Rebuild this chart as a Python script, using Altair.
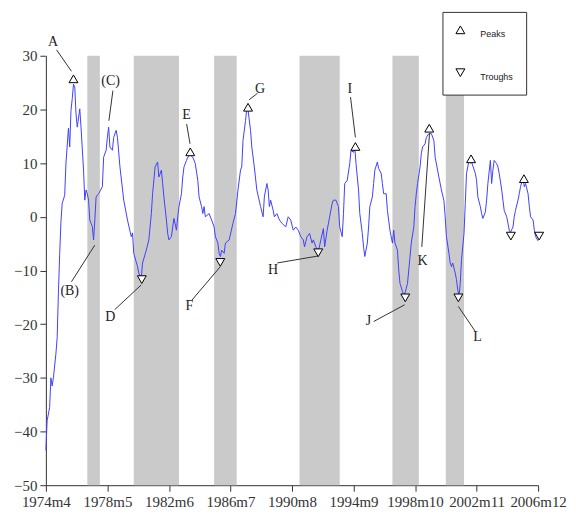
import altair as alt
import pandas as pd

# month index (0 = 1974m4) and index value
series = [
    (0, -43.5), (1, -38.0), (3, -35.5), (4, -30.0), (5, -31.5), (6, -30.0), (8, -25.5), (9, -22.5),
    (10, -14.0), (11, -7.0), (12, -1.0), (13, 2.5), (15, 4.0), (16, 10.0), (18, 16.5), (19, 13.0),
    (20, 19.8), (21, 22.0), (22, 24.7), (23, 24.2), (24, 19.2), (25, 16.7), (27, 20.1), (28, 16.7),
    (30, 8.7), (31, 3.1), (32, 5.0), (33, 4.3), (34, 3.1), (35, -0.6), (36, -1.2), (37, -1.8),
    (38, -4.3), (39, -0.6), (40, 3.7), (42, 4.3), (45, 5.6), (46, 11.1), (48, 12.4), (49, 14.8),
    (50, 16.7), (51, 13.0), (53, 12.4), (54, 14.8), (56, 16.1), (57, 14.8), (59, 9.3), (62, 3.1),
    (65, -0.6), (68, -3.7), (69, -3.0), (70, -6.8), (73, -9.3), (74, -10.5), (76, -11.4), (77, -8.6),
    (80, -6.2), (82, -4.3), (84, 0.6), (85, 4.3), (87, 9.3), (89, 10.2), (90, 7.4), (92, 8.7),
    (93, 6.2), (94, 3.7), (96, -0.6), (97, -3.1), (98, -4.3), (100, -3.7), (101, -1.9), (102, -0.3),
    (104, -2.5), (105, 0.0), (106, 1.9), (108, 4.3), (109, 7.4), (110, 9.3), (112, 10.5), (113, 11.1),
    (115, 11.5), (117, 11.1), (119, 9.9), (121, 6.8), (122, 3.7), (124, 1.9), (125, 0.6), (126, 1.9),
    (127, 0.0), (130, 0.6), (132, -0.6), (134, -1.9), (135, -3.7), (137, -4.9), (138, -6.8), (139, -7.4),
    (140, -6.2), (142, -6.8), (143, -4.9), (146, -4.3), (149, -1.2), (151, 0.6), (153, 5.0), (155, 8.7),
    (156, 9.3), (157, 14.2), (159, 17.9), (160, 20.1), (161, 19.9), (163, 16.1), (164, 13.0), (166, 9.3),
    (168, 5.0), (171, 1.9), (173, 0.0), (174, 3.7), (176, 6.2), (177, 5.0), (178, 1.9), (179, 3.1),
    (181, 1.2), (182, 0.0), (184, 0.6), (186, -0.6), (188, -1.2), (191, -1.9), (193, 0.0), (195, -0.6),
    (197, -2.5), (199, -1.9), (201, -2.5), (203, -3.7), (205, -4.3), (206, -5.6), (208, -3.7), (210, -3.1),
    (212, -4.9), (213, -4.3), (215, -5.6), (217, -6.5), (219, -4.3), (221, -2.2), (222, -5.6), (224, -2.5),
    (226, 0.0), (228, 2.5), (229, 3.1), (231, 3.1), (233, 1.9), (234, -1.9), (236, -3.7), (237, 0.6),
    (238, 6.2), (240, 6.8), (242, 9.9), (243, 12.4), (245, 12.0), (246, 13.0), (247, 9.9), (249, 5.0),
    (250, 0.6), (252, -3.1), (253, -5.6), (254, -7.4), (256, -4.9), (257, -1.9), (258, 1.9), (260, 3.7),
    (261, 6.2), (262, 8.7), (264, 10.2), (265, 9.0), (267, 8.1), (268, 6.2), (269, 4.3), (271, 4.3),
    (272, 1.2), (274, -2.5), (276, -4.9), (277, -2.5), (278, -4.9), (280, -6.2), (281, -9.9), (282, -12.4),
    (284, -13.9), (285, -14.8), (286, -14.2), (288, -12.4), (289, -9.9), (290, -7.4), (291, -4.9), (293, -1.9),
    (294, 1.9), (295, 4.3), (296, 6.2), (298, 9.3), (299, 11.8), (300, 13.0), (302, 13.6), (303, 14.8),
    (305, 15.5), (307, 15.5), (309, 14.2), (310, 11.1), (313, 7.4), (315, 5.0), (317, 3.0), (318, 0.0),
    (319, -3.7), (321, -6.8), (322, -8.6), (323, -9.3), (324, -8.6), (326, -10.5), (327, -11.7), (328, -13.6),
    (329, -14.8), (330, -12.4), (331, -8.0), (333, -3.1), (334, 2.5), (335, 8.1), (337, 10.5), (338, 10.0),
    (339, 10.2), (342, 8.1), (343, 6.8), (344, 3.7), (346, 1.9), (347, 0.6), (348, -0.3), (350, 0.9),
    (351, 3.1), (352, 6.2), (354, 10.5), (355, 6.2), (356, 8.7), (357, 10.5), (359, 9.9), (360, 9.3),
    (361, 8.1), (363, 5.0), (364, 3.1), (365, 1.2), (367, 0.0), (368, -1.2), (369, -2.5), (370, -2.9),
    (372, -1.9), (373, 0.0), (374, 1.2), (376, 3.1), (377, 4.3), (378, 5.6), (380, 7.4), (381, 5.6),
    (382, 6.2), (384, 4.3), (385, 1.9), (386, 0.0), (388, -0.6), (389, -2.5), (390, -3.7), (392, -4.5),
]
months = [m for m, _ in series]
values = [v for _, v in series]

# shaded periods (month index start / end)
band_start = [33, 70, 134, 202, 276, 318.5]
band_end = [43, 106, 152, 234, 297, 333]

# turning point markers
peak_m = [22, 115, 161, 246.5, 305.3, 338.6, 380.7]
peak_v = [25.7, 12.1, 20.4, 13.1, 16.5, 10.8, 7.1]
trough_m = [76.4, 138.9, 216.9, 286.2, 328.5, 370.3, 392.8]
trough_v = [-11.7, -8.5, -6.7, -15.1, -15.1, -3.6, -3.6]

# annotation labels and leader lines
ann_text = ["A", "(B)", "(C)", "D", "E", "F", "G", "H", "I", "J", "K", "L"]
ann_tx = [5.8, 19, 51.6, 51.3, 112, 114.3, 170.6, 181, 242, 257, 300, 343.8]
ann_ty = [32.5, -13.9, 25.2, -18.6, 18.9, -16.7, 23.8, -10, 23.8, -19.5, -8.2, -22.4]
lead_x1 = [8.5, 20.4, 53.4, 54.8, 112.1, 116.4, 168.5, 184.3, 242.6, 261.1, 299.4, 341.8]
lead_y1 = [31.1, -12.1, 23.5, -17.3, 17.3, -15.5, 23.0, -8.6, 22.3, -19.5, -5.6, -21.3]
lead_x2 = [20.4, 38.9, 50.2, 75.9, 114.8, 138.9, 161.9, 216.9, 246.5, 285.7, 305.5, 328.5]
lead_y2 = [27.1, -5.3, 17.9, -12.7, 13.6, -9.3, 21.8, -7.3, 14.8, -16.4, 15.5, -16.7]

x_ticks = [0, 49, 98, 147, 196, 245, 294, 343, 392]
y_ticks = [-50, -40, -30, -20, -10, 0, 10, 20, 30]
legend_items = ["Peaks", "Troughs"]

line_df = pd.DataFrame({"m": months, "v": values})
band_df = pd.DataFrame({"s": band_start, "e": band_end})
mark_df = pd.DataFrame({
    "m": peak_m + trough_m,
    "v": peak_v + trough_v,
    "type": ["Peaks"] * len(peak_m) + ["Troughs"] * len(trough_m),
})
ann_df = pd.DataFrame({"t": ann_text, "tx": ann_tx, "ty": ann_ty,
                       "x1": lead_x1, "y1": lead_y1, "x2": lead_x2, "y2": lead_y2})

xscale = alt.Scale(domain=[0, 392], nice=False, zero=False)
yscale = alt.Scale(domain=[-50, 30], nice=False, zero=False)

SERIF = "Liberation Serif"
label_expr = "floor((datum.value + 3) / 12) + 1974 + 'm' + ((datum.value + 3) % 12 + 1)"
xaxis = alt.Axis(values=x_ticks, labelExpr=label_expr, title=None, grid=False,
                 tickSize=6, labelOverlap=False, labelFlush=False, labelPadding=3,
                 labelFont=SERIF, labelFontSize=15)
yaxis = alt.Axis(values=y_ticks, title=None, grid=False, tickSize=6, labelPadding=3,
                 labelFont=SERIF, labelFontSize=15)

bands = alt.Chart(band_df).mark_rect(color="#cacaca").encode(
    x=alt.X("s:Q", scale=xscale, axis=xaxis),
    x2="e:Q",
    y=alt.datum(-50, scale=yscale, axis=yaxis, type="quantitative"),
    y2=alt.datum(30),
)

line = alt.Chart(line_df).mark_line(color="#4040ff", strokeWidth=1).encode(
    x=alt.X("m:Q", scale=xscale, axis=xaxis),
    y=alt.Y("v:Q", scale=yscale, axis=yaxis),
)

leaders = alt.Chart(ann_df).mark_rule(color="#333333", strokeWidth=1).encode(
    x="x1:Q", y="y1:Q", x2="x2:Q", y2="y2:Q",
)

labels = alt.Chart(ann_df).mark_text(font=SERIF, fontSize=14, color="#222222").encode(
    x="tx:Q", y="ty:Q", text="t:N",
)

leg = alt.Legend(title=None, orient="none", legendX=398, legendY=-44,
                 strokeColor="#333333", fillColor="white",
                 padding=13, rowPadding=28, labelOffset=15,
                 symbolSize=80, symbolStrokeWidth=1, symbolFillColor="white",
                 labelFont="Liberation Sans", labelFontSize=9,
                 labelBaseline="top", labelColor="#222222")

markers = alt.Chart(mark_df).mark_point(filled=False, fill="white", fillOpacity=1,
                                        strokeWidth=1, size=80, opacity=1).encode(
    x="m:Q", y="v:Q",
    shape=alt.Shape("type:N",
                    scale=alt.Scale(domain=legend_items,
                                    range=["triangle-up", "triangle-down"]),
                    legend=leg),
    stroke=alt.Stroke("type:N",
                      scale=alt.Scale(domain=legend_items, range=["black", "black"]),
                      legend=leg),
)

chart = alt.layer(bands, line, leaders, labels, markers).properties(
    width=494, height=431,
    autosize="none",
    padding={"left": 38, "top": 47, "right": 30, "bottom": 30},
).configure_view(stroke=None).configure_axis(
    domainColor="#333333", tickColor="#333333", labelColor="#333333",
    domainWidth=1, tickWidth=1,
)

chart.save("out.html", embed_options={"renderer": "svg", "actions": False})
